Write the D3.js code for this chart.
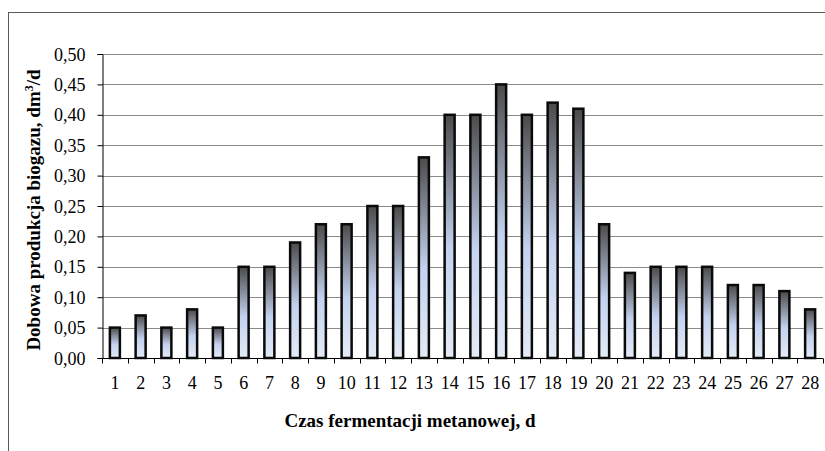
<!DOCTYPE html>
<html>
<head>
<meta charset="utf-8">
<script src="https://cdn.jsdelivr.net/npm/d3@7"></script>
<style>
  body { margin: 0; background: #fff; }
  svg text { font-family: "Liberation Serif", "Times New Roman", serif; }
</style>
</head>
<body>
<div id="chart"></div>
<script>
// days and daily biogas production (dm3/d)
const days = d3.range(1, 29).map(String);
const values = [0.05, 0.07, 0.05, 0.08, 0.05, 0.15, 0.15, 0.19, 0.22, 0.22,
    0.25, 0.25, 0.33, 0.40, 0.40, 0.45, 0.40, 0.42, 0.41, 0.22,
    0.14, 0.15, 0.15, 0.15, 0.12, 0.12, 0.11, 0.08];
const yTicks = [0, 0.05, 0.10, 0.15, 0.20, 0.25, 0.30, 0.35, 0.40, 0.45, 0.50];

const W = 825, H = 451;
const serif = "'Liberation Serif', 'Times New Roman', serif";
let margin = { top: 54, right: 2, bottom: 93, left: 102 },
    width = W - margin.left - margin.right,
    height = H - margin.top - margin.bottom;

const svg = d3.select("#chart").append("svg")
    .attr("width", W)
    .attr("height", H);

// outer frame
svg.append("rect")
    .attr("x", 8.5).attr("y", 12.5)
    .attr("width", W).attr("height", H)
    .attr("fill", "none")
    .attr("stroke", "#5a5a5a")
    .attr("stroke-width", 1);

// bar gradient
const grad = svg.append("defs").append("linearGradient")
    .attr("id", "barGrad")
    .attr("x1", 0).attr("y1", 0).attr("x2", 0).attr("y2", 1);
grad.append("stop").attr("offset", "0%").attr("stop-color", "#4a4a4a");
grad.append("stop").attr("offset", "55%").attr("stop-color", "#c3d2ef");
grad.append("stop").attr("offset", "100%").attr("stop-color", "#e4ebf6");

const g = svg.append("g")
    .attr("transform", "translate(" + margin.left + "," + margin.top + ")");

const x = d3.scaleBand()
    .domain(days)
    .range([0, width]);

const y = d3.scaleLinear()
    .domain([0, 0.5])
    .range([height, 0]);

const fmt = d => d3.format(".2f")(d).replace(".", ",");

// gridlines
g.selectAll(".grid")
    .data(yTicks.filter(d => d > 0))
    .enter().append("line")
    .attr("x1", 0).attr("x2", width)
    .attr("y1", d => Math.round(y(d)) + 0.5)
    .attr("y2", d => Math.round(y(d)) + 0.5)
    .attr("stroke", "#8a8a8a")
    .attr("stroke-width", 1);

// y axis
g.append("g")
    .attr("transform", "translate(0.5,0)")
    .call(d3.axisLeft(y).tickValues(yTicks).tickFormat(fmt).tickSize(5).tickPadding(12))
    .attr("font-family", serif)
    .attr("font-size", 18)
    .call(a => a.select(".domain").attr("stroke", "#000"))
    .call(a => a.selectAll("text").attr("fill", "#000").attr("dy", "0.34em"));

// x axis with ticks between categories
const xAxis = g.append("g")
    .attr("transform", "translate(0," + (Math.round(height) + 0.5) + ")");
xAxis.append("line")
    .attr("x1", 0).attr("x2", width)
    .attr("stroke", "#000");
xAxis.selectAll(".tk")
    .data(days.concat(["end"]))
    .enter().append("line")
    .attr("x1", (d, i) => Math.round(i * x.step()) + 0.5)
    .attr("x2", (d, i) => Math.round(i * x.step()) + 0.5)
    .attr("y1", 0).attr("y2", 5)
    .attr("stroke", "#000");
xAxis.selectAll(".lbl")
    .data(days)
    .enter().append("text")
    .attr("x", d => x(d) + x.bandwidth() / 2)
    .attr("y", 30)
    .attr("text-anchor", "middle")
    .attr("font-family", serif)
    .attr("font-size", 18)
    .text(d => d);

// bars
const barW = 10;
g.selectAll(".bar")
    .data(values)
    .enter().append("rect")
    .attr("x", (d, i) => x(days[i]) + x.bandwidth() / 2 - barW / 2)
    .attr("y", d => y(d))
    .attr("width", barW)
    .attr("height", d => height - y(d))
    .attr("fill", "url(#barGrad)")
    .attr("stroke", "#0a0a0a")
    .attr("stroke-width", 2.5);

// axis titles
svg.append("text")
    .attr("x", 410)
    .attr("y", 427)
    .attr("text-anchor", "middle")
    .attr("font-family", serif)
    .attr("font-size", 19)
    .attr("font-weight", "bold")
    .text("Czas fermentacji metanowej, d");

svg.append("text")
    .attr("transform", "translate(40,210) rotate(-90)")
    .attr("text-anchor", "middle")
    .attr("font-family", serif)
    .attr("font-size", 19)
    .attr("font-weight", "bold")
    .html("Dobowa produkcja biogazu, dm<tspan baseline-shift='super' font-size='12'>3</tspan>/d");
</script>
</body>
</html>
